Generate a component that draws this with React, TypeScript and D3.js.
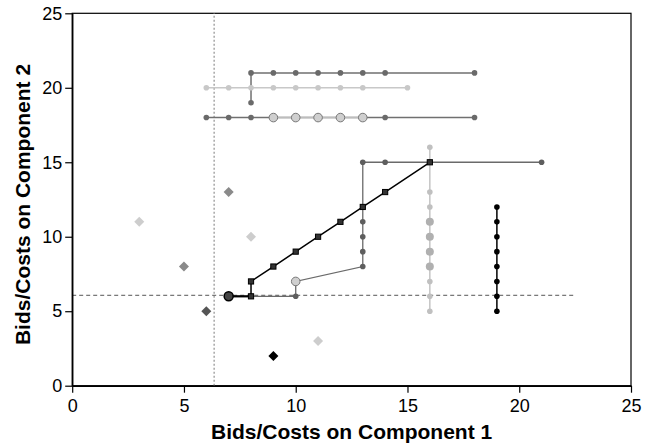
import React, { useRef, useEffect } from 'react';
import * as d3 from 'd3';

type Pt = [number, number];

// dark grey series, upper part (19 -> 21, then along 21)
const darkTop: Pt[] = [[8, 19], [8, 21], [9, 21], [10, 21], [11, 21], [12, 21], [13, 21], [14, 21], [18, 21]];
// light grey series along 20
const lightTop: Pt[] = [[6, 20], [7, 20], [8, 20], [9, 20], [10, 20], [11, 20], [12, 20], [13, 20], [15, 20]];
// dark grey series along 18
const darkMid: Pt[] = [[6, 18], [7, 18], [8, 18], [9, 18], [10, 18], [11, 18], [12, 18], [13, 18], [14, 18], [18, 18]];
// big light circles with outline
const bigLight: Pt[] = [[9, 18], [10, 18], [11, 18], [12, 18], [13, 18], [10, 7]];
// dark grey step path
const darkStep: Pt[] = [[7, 6], [10, 6], [10, 7], [13, 8], [13, 9], [13, 10], [13, 11], [13, 12], [13, 15], [14, 15], [21, 15]];
// black squares diagonal
const blackSquares: Pt[] = [[7, 6], [8, 6], [8, 7], [9, 8], [10, 9], [11, 10], [12, 11], [13, 12], [14, 13], [16, 15]];
// big dark circle at start
const bigDark: Pt[] = [[7, 6]];
// light grey column
const lightColumn: Pt[] = [[16, 16], [16, 13], [16, 12], [16, 11], [16, 10], [16, 9], [16, 8], [16, 7], [16, 6], [16, 5]];
const lightColumnBig: Pt[] = [[16, 11], [16, 10], [16, 9], [16, 8]];
// black column
const blackColumn: Pt[] = [[19, 12], [19, 11], [19, 10], [19, 9], [19, 8], [19, 7], [19, 6], [19, 5]];
// single diamonds
const diamondsLight: Pt[] = [[3, 11], [8, 10], [11, 3]];
const diamondsMid: Pt[] = [[5, 8], [7, 13]];
const diamondsDark: Pt[] = [[6, 5]];
const diamondsBlack: Pt[] = [[9, 2]];

// reference lines
const refX = 6.35;
const refY = 6.07;
const refYEnd = 22.5;

const xTicks = [0, 5, 10, 15, 20, 25];
const yTicks = [0, 5, 10, 15, 20, 25];

const W = 651;
const H = 446;
const margin = { top: 13.3, right: 20, bottom: 60.3, left: 72.2 };
const font = "'Liberation Sans', Arial, Helvetica, sans-serif";

function App() {
  const svgRef = useRef<SVGSVGElement>(null);

  useEffect(() => {
    const svg = d3.select(svgRef.current);
    svg.selectAll('*').remove();

    const x = d3.scaleLinear().domain([0, 25]).range([margin.left, W - margin.right]);
    const y = d3.scaleLinear().domain([0, 25]).range([H - margin.bottom, margin.top]);
    const line = d3.line<Pt>().x(d => x(d[0])).y(d => y(d[1]));

    // frame
    svg.append('rect')
      .attr('x', x(0)).attr('y', y(25))
      .attr('width', x(25) - x(0)).attr('height', y(0) - y(25))
      .attr('fill', 'none').attr('stroke', '#000').attr('stroke-width', 1.2);

    // reference lines
    svg.append('line')
      .attr('x1', x(refX)).attr('x2', x(refX)).attr('y1', y(0)).attr('y2', y(25))
      .attr('stroke', '#999').attr('stroke-width', 1.3).attr('stroke-dasharray', '2,2');
    svg.append('line')
      .attr('x1', x(0)).attr('x2', x(refYEnd)).attr('y1', y(refY)).attr('y2', y(refY))
      .attr('stroke', '#555').attr('stroke-width', 1).attr('stroke-dasharray', '4,3');

    const path = (data: Pt[], color: string, width: number) =>
      svg.append('path').attr('d', line(data)).attr('fill', 'none')
        .attr('stroke', color).attr('stroke-width', width);

    const dots = (data: Pt[], r: number, fill: string, stroke = 'none', sw = 0) =>
      svg.append('g').selectAll('circle').data(data).join('circle')
        .attr('cx', d => x(d[0])).attr('cy', d => y(d[1])).attr('r', r)
        .attr('fill', fill).attr('stroke', stroke).attr('stroke-width', sw);

    const diamonds = (data: Pt[], fill: string) =>
      svg.append('g').selectAll('path').data(data).join('path')
        .attr('d', d3.symbol(d3.symbolDiamond2, 64)())
        .attr('transform', d => `translate(${x(d[0])},${y(d[1])})`)
        .attr('fill', fill);

    // lines
    path(darkTop, '#707070', 1.5);
    path(lightTop, '#c8c8c8', 1.5);
    path(darkMid, '#707070', 1.5);
    path(bigLight.slice(0, 5), '#bdbdbd', 1.5);
    path(darkStep, '#6a6a6a', 1.3);
    path(lightColumn, '#c4c4c4', 1.5);
    path(blackColumn, '#000', 1.5);

    // markers
    dots(darkTop, 2.8, '#6a6a6a');
    dots(lightTop, 2.8, '#c8c8c8');
    dots(darkMid, 2.8, '#6a6a6a');
    dots(lightColumn, 2.8, '#c0c0c0');
    dots(lightColumnBig, 4, '#b0b0b0');
    dots(darkStep, 2.8, '#5e5e5e');
    dots(bigLight, 4.3, '#cfcfcf', '#777', 1);
    dots(blackColumn, 2.8, '#000');

    // black square series on top
    svg.append('path').attr('d', line(blackSquares.slice(0, 2))).attr('fill', 'none')
      .attr('stroke', '#000').attr('stroke-width', 2.2);
    path(blackSquares.slice(1), '#000', 1.5);
    dots(bigDark, 4.5, '#444', '#000', 1.5);
    svg.append('g').selectAll('rect').data(blackSquares.slice(1)).join('rect')
      .attr('x', d => x(d[0]) - 2.6).attr('y', d => y(d[1]) - 2.6)
      .attr('width', 5.2).attr('height', 5.2)
      .attr('fill', '#333').attr('stroke', '#000').attr('stroke-width', 1);

    diamonds(diamondsLight, '#cdcdcd');
    diamonds(diamondsMid, '#8a8a8a');
    diamonds(diamondsDark, '#555');
    diamonds(diamondsBlack, '#000');

    // axes
    const xAxis = d3.axisBottom(x).tickValues(xTicks).tickSize(7).tickSizeOuter(0).tickPadding(7);
    const gx = svg.append('g').attr('transform', `translate(0,${y(0)})`).call(xAxis);
    const yAxis = d3.axisLeft(y).tickValues(yTicks).tickSize(7).tickSizeOuter(0).tickPadding(3);
    const gy = svg.append('g').attr('transform', `translate(${x(0)},0)`).call(yAxis);
    [gx, gy].forEach(g => {
      g.select('.domain').attr('stroke', '#000').attr('stroke-width', 1.5);
      g.selectAll('.tick line').attr('stroke', '#000').attr('stroke-width', 1.2);
      g.selectAll('.tick text').attr('fill', '#000').style('font-size', '18px').style('font-family', font);
    });

    // axis titles
    svg.append('text')
      .attr('x', (x(0) + x(25)) / 2).attr('y', 439)
      .attr('text-anchor', 'middle')
      .style('font-family', font).style('font-size', '21px').style('font-weight', 'bold')
      .text('Bids/Costs on Component 1');
    svg.append('text')
      .attr('transform', `translate(30,${(y(0) + y(25)) / 2 + 5}) rotate(-90)`)
      .attr('text-anchor', 'middle')
      .style('font-family', font).style('font-size', '21px').style('font-weight', 'bold')
      .text('Bids/Costs on Component 2');
  }, []);

  return (
    <svg ref={svgRef} width={W} height={H}
      style={{ position: 'absolute', left: 0, top: 0, background: '#fff' }} />
  );
}

export default App;
